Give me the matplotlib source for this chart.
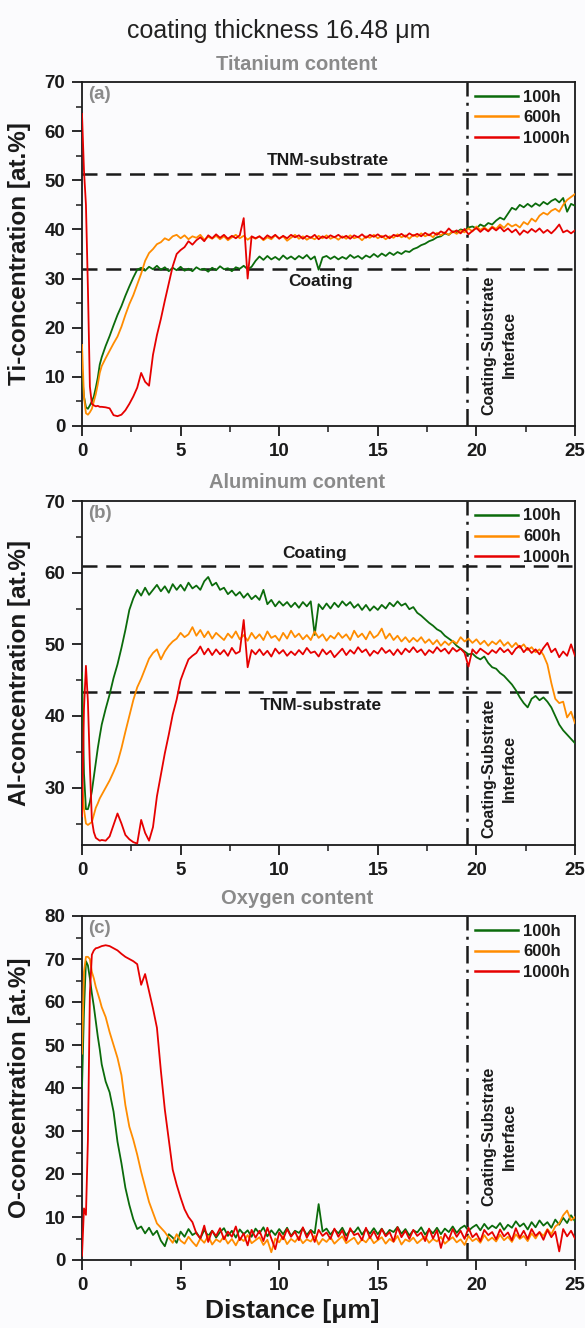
import numpy as np
import matplotlib
matplotlib.use("Agg")
import matplotlib.pyplot as plt
from matplotlib.ticker import MultipleLocator

plt.rcParams['font.family'] = ['Liberation Sans', 'DejaVu Sans']

# sample positions (µm)
distance = np.concatenate([np.round(np.arange(0.0, 0.95, 0.1), 1),
                           np.round(np.arange(1.0, 25.01, 0.2), 1)])

series_labels = ["100h", "600h", "1000h"]
series_colors = ["#0b6b0b", "#ff8c00", "#e60000"]

# ---------------- Titanium ----------------
ti_100h = [10.5, 6.0, 3.8, 3.5, 4.2, 5.0, 6.0, 7.8, 9.8, 12.5,
           14.0, 16.3, 18.3, 20.5, 22.6, 24.4, 26.5, 28.4, 30.2, 31.8,
           32.2, 31.6, 32.4, 31.9, 32.6, 31.8, 32.3, 31.5, 32.2, 31.7,
           32.4, 31.6, 32.0, 31.5, 32.3, 31.8, 32.0, 31.4, 32.2, 31.7,
           32.5, 31.9, 32.1, 31.5, 32.3, 32.0, 32.6, 31.9, 32.4, 33.6,
           34.5, 33.8, 34.6, 33.9, 34.4, 33.8, 34.7, 34.0, 34.5, 33.9,
           34.6, 34.1, 34.8, 33.9, 34.5, 31.8, 34.3, 34.6, 34.0, 34.5,
           33.9, 34.4, 34.0, 34.8, 34.2, 34.6, 34.0, 34.7, 34.3, 35.0,
           34.4, 35.1, 34.6, 35.3, 34.8, 35.4, 35.0, 35.6, 35.4, 36.0,
           36.3, 36.8, 37.1, 37.6, 37.9, 38.4, 38.6, 39.2, 38.9, 39.6,
           39.4, 40.0, 39.8, 40.4, 40.6, 40.2, 41.0, 40.6, 41.3, 41.0,
           41.8, 42.4, 42.0, 43.2, 44.4, 44.0, 45.0, 44.5, 45.2, 44.6,
           45.3, 44.8, 45.6, 45.1, 45.8, 46.2, 45.5, 46.4, 43.6, 45.2,
           44.8]
ti_600h = [16.5, 6.0, 2.6, 2.3, 2.8, 3.5, 5.0, 6.5, 8.5, 10.8,
           12.2, 13.8, 15.3, 16.8, 18.2, 20.2, 22.6, 24.8, 26.6, 28.8,
           31.0, 33.6, 35.2, 36.0, 37.0, 37.4, 38.2, 37.8, 38.6, 38.9,
           38.2, 38.8, 38.0, 38.6, 38.3, 38.9, 37.9, 38.5, 38.1, 38.7,
           38.0, 38.6, 37.8, 38.4, 38.9, 38.2, 38.7, 37.9, 38.5, 38.1,
           38.6, 37.8, 38.4, 38.0, 38.8, 38.2, 38.6, 37.7, 38.3, 38.9,
           38.1, 38.6, 37.9, 38.4, 38.0, 38.7, 38.2, 38.8, 38.1, 38.5,
           37.9, 38.6, 38.1, 38.8, 38.2, 38.5, 37.8, 38.6, 38.3, 38.9,
           38.2, 38.7, 38.0, 38.6, 38.3, 39.0, 38.4, 38.8, 38.1, 38.9,
           38.5, 39.2, 38.6, 39.0, 38.4, 39.3, 38.8, 39.4, 38.9, 39.6,
           39.1, 39.8, 39.4, 40.2, 39.6, 40.6, 39.9, 40.4, 39.8, 40.6,
           40.1, 41.0, 40.3, 41.2, 40.6, 41.0, 40.4, 41.5, 41.0, 42.2,
           41.6, 42.8, 43.4, 43.0, 43.8, 44.2, 43.6, 45.0, 46.0, 46.6,
           47.2]
ti_1000h = [63.5, 52.0, 45.0, 28.0, 8.0, 4.5, 4.2, 4.0, 4.1, 3.9,
            3.9, 3.8, 3.6, 2.2, 2.0, 2.3, 3.2, 4.5, 6.0, 7.8,
            10.8, 9.0, 8.2, 14.5, 18.5, 21.8, 25.5, 29.0, 32.5, 35.0,
            35.8, 36.4, 37.6, 36.9, 37.8, 38.4, 37.6, 38.8, 38.2, 39.0,
            38.3, 38.9, 38.1, 38.7, 38.2, 38.8, 42.3, 30.0, 38.6, 38.2,
            38.6, 38.0, 38.8, 38.3, 38.9, 38.1, 38.7, 38.2, 38.9, 38.4,
            38.8, 38.1, 38.7, 38.3, 38.9, 38.0, 38.6, 38.2, 38.8, 38.4,
            38.9, 38.3, 38.7, 38.1, 38.8, 38.4, 39.0, 38.3, 38.9, 38.5,
            39.0, 38.4, 38.8, 38.2, 38.9, 38.6, 39.1, 38.5, 39.2, 38.7,
            39.1, 38.6, 39.3, 38.8, 39.4, 38.9, 39.6, 39.2, 40.2, 39.4,
            39.8, 39.2, 40.1, 39.0, 39.7, 40.3, 39.5, 40.2, 39.6, 40.4,
            39.8, 40.5, 39.6, 40.2, 39.4, 40.0, 38.9, 39.8, 39.3, 40.1,
            39.5, 40.2, 39.3, 39.9, 39.2, 40.0, 41.0, 39.4, 39.8, 39.2,
            39.8]

# ---------------- Aluminum ----------------
al_100h = [46.0, 32.0, 27.0, 27.0, 28.0, 29.5, 31.5, 33.5, 35.5, 37.2,
           38.8, 41.0, 43.0, 45.3, 47.2, 49.5, 52.0, 54.8, 56.4, 57.6,
           56.8, 57.9, 56.9, 57.6, 58.3, 57.4, 58.1, 57.2, 58.4, 57.6,
           58.3, 57.5, 58.6, 57.8, 58.2, 57.6, 58.8, 59.4, 58.2, 58.6,
           57.6, 57.9, 57.0, 57.5, 56.8, 57.3, 56.5, 57.1, 56.3, 56.8,
           56.2, 57.6, 55.6, 56.2, 55.3, 56.0, 55.4, 55.9, 55.2, 55.8,
           55.1, 55.9, 55.3, 56.0, 51.3, 55.6, 54.9, 55.7, 55.0, 55.8,
           55.2, 56.0, 55.4, 55.9, 55.1, 55.6, 54.8, 55.5, 54.7, 55.3,
           54.8, 55.5, 55.0, 55.8, 55.3, 56.0, 55.4, 55.7, 54.9, 55.2,
           54.4, 54.0, 53.5, 53.0, 52.6, 52.1, 51.8, 51.2, 50.8, 50.4,
           49.8, 49.4, 49.0, 48.6, 48.7, 48.2, 47.9, 48.3, 47.4, 46.8,
           46.6, 46.0, 45.6, 45.0, 44.4, 43.6, 42.6, 41.8, 41.2, 42.4,
           42.8, 42.2, 42.6, 42.0, 41.2, 40.0, 38.8, 38.0, 37.4, 36.8,
           36.2]
al_600h = [31.0, 27.0, 25.0, 24.8, 25.0, 25.2, 26.2, 27.2, 27.8, 28.5,
           29.0, 30.0, 31.0, 32.2, 33.5, 35.5, 37.8, 40.0, 42.2, 44.0,
           45.2, 46.6, 48.0, 48.8, 49.3, 47.9, 49.0, 49.8, 50.4, 50.8,
           51.6, 51.0, 51.4, 52.4, 51.2, 52.0, 51.0, 51.8, 50.8, 51.6,
           51.1, 50.6, 51.5, 50.9, 51.8, 50.7, 51.3, 50.5, 51.6, 50.8,
           51.4, 50.6, 51.8, 50.9, 51.2, 50.5, 51.6, 50.8, 51.9, 51.0,
           51.5, 50.7, 51.3, 50.6, 51.8, 50.9, 51.4, 50.5, 51.2, 50.8,
           51.6, 50.9, 51.4, 50.6, 51.9, 51.0, 51.5, 50.7, 51.8, 50.9,
           51.3, 52.2, 50.8, 51.5, 50.6, 51.2, 50.4, 51.0, 50.3, 50.9,
           50.4, 51.0, 50.2, 50.7, 50.0, 50.6, 49.8, 50.4, 49.9, 50.5,
           50.1, 51.0, 50.4, 50.8, 50.2, 50.7, 50.0, 50.5, 49.8, 50.4,
           50.0, 50.6, 49.8, 50.3, 49.6, 50.2, 49.5, 50.0, 49.2, 49.6,
           48.9, 49.3, 48.5, 47.2, 44.6, 42.4, 41.8, 42.0, 39.8, 40.6,
           39.0]
al_1000h = [26.0, 41.0, 47.0, 42.0, 33.0, 25.5, 23.8, 23.0, 22.8, 22.6,
            22.7, 22.6, 23.2, 24.8, 26.4, 25.0, 23.4, 22.8, 22.4, 22.2,
            25.5, 23.7, 22.6, 24.5, 28.8, 31.8, 34.8, 37.4, 40.2, 42.3,
            45.0, 46.5, 47.9, 48.4, 48.8, 49.7, 48.6, 49.4, 48.5, 49.3,
            48.6, 49.2, 48.4, 49.5, 48.7, 49.0, 53.4, 46.8, 49.2, 48.6,
            49.3, 48.5, 49.1, 48.3, 49.4, 48.7, 49.2, 48.4, 49.0, 48.5,
            49.2, 48.6, 49.5, 48.8, 49.0, 48.3, 49.3, 48.6, 49.1, 48.2,
            48.8, 49.4, 48.5, 49.2, 48.7, 49.6, 48.9, 49.3, 48.4, 49.1,
            48.7, 49.5, 48.8, 49.2, 48.5, 49.3, 48.6, 49.4, 48.9, 49.6,
            48.9, 49.3, 48.5, 49.2, 48.8, 49.6, 49.0, 49.4, 48.7, 49.5,
            49.0, 49.4, 48.8, 46.9, 49.3, 48.7, 49.4, 49.0, 48.6, 49.2,
            48.8, 49.5, 48.9, 49.3, 48.6, 49.4, 49.8, 48.9, 49.5, 48.8,
            49.3, 48.6, 49.5, 50.2, 48.9, 49.4, 48.2, 49.0, 48.4, 50.0,
            48.4]

# ---------------- Oxygen ----------------
o_100h = [40.0, 58.0, 69.5, 68.5, 65.5, 62.0, 59.0, 55.5, 52.0, 49.0,
          45.5, 41.5, 39.0, 34.5, 27.5, 22.5, 16.8, 12.8, 9.5, 7.2,
          7.8, 6.2, 7.5, 5.8, 6.8, 4.5, 3.2, 6.0, 5.2, 4.0,
          6.6, 5.4, 7.2, 5.8, 6.4, 5.0, 7.0, 5.6, 6.8, 5.2,
          6.5, 7.4, 5.6, 6.8, 5.2, 7.1, 6.0, 6.9, 5.4, 7.3,
          6.2, 7.6, 5.5, 6.9, 5.8, 7.2, 6.0, 7.5, 5.6, 6.8,
          6.3, 7.4, 5.8, 7.0, 6.2, 13.0, 6.6, 7.3, 5.9, 7.1,
          6.2, 7.5, 5.7, 6.9, 6.4, 7.6, 5.9, 7.2, 6.1, 7.4,
          6.0, 7.3, 5.8, 7.0, 6.5, 7.7, 6.1, 7.2, 5.7, 6.9,
          6.4, 7.6, 5.9, 7.1, 6.2, 7.5, 6.0, 7.3, 6.5, 7.8,
          6.3, 7.4, 8.0, 6.8, 7.6, 8.2, 6.9, 8.4, 7.2, 8.0,
          7.4, 8.6, 7.0, 8.2, 7.5, 9.0, 7.8, 8.5, 7.1, 8.8,
          7.6, 9.2, 8.0, 8.8, 7.5, 9.4, 8.2, 9.8, 8.6, 10.4,
          9.0]
o_600h = [48.0, 67.0, 70.5, 70.5, 70.0, 67.0, 65.5, 63.5, 62.0, 60.5,
          58.8, 56.5, 53.0, 50.0, 47.0, 43.0, 36.0, 31.0, 28.0, 24.5,
          20.5, 17.0, 13.5, 11.0, 8.5, 7.5, 6.5, 5.2, 4.0, 6.0,
          4.5, 3.8, 5.4, 4.2, 3.2, 5.0, 4.0, 5.6, 3.6, 4.8,
          4.2, 5.5, 3.8, 4.9, 3.4, 5.2, 4.4, 5.8, 3.9, 4.6,
          5.3, 3.5, 4.7, 1.8, 5.0, 4.1, 5.6, 3.7, 4.9, 4.2,
          5.4, 3.9, 4.8, 4.3, 5.6, 3.6, 4.9, 4.2, 5.3, 3.8,
          4.7, 5.5, 3.9, 4.6, 5.2, 3.7, 4.8, 4.1, 5.4, 3.9,
          4.6, 5.3, 3.8, 4.9, 4.2, 5.6, 3.6, 4.8, 4.3, 5.2,
          3.9, 4.7, 5.5, 4.0, 4.9, 4.3, 5.4, 3.8, 4.6, 5.3,
          4.1, 4.8, 3.5, 5.6, 4.4, 5.0, 4.0, 5.8, 4.5, 5.2,
          4.3, 5.9, 4.6, 5.4, 4.2, 6.0, 4.9, 5.6, 4.4, 6.2,
          5.0, 6.5, 5.6, 7.2, 6.0, 7.8, 8.5, 10.4, 11.5, 9.2,
          10.0]
o_1000h = [1.0, 12.0, 10.5, 28.0, 62.0, 71.0, 72.0, 72.5, 72.6, 72.8,
           73.0, 73.2, 73.0, 72.5, 72.0, 71.2, 70.5, 70.0, 69.5, 68.8,
           64.0, 66.5, 62.5, 58.5, 54.0, 44.0, 35.0, 28.0, 21.0, 17.5,
           14.5, 11.8, 10.0, 8.8, 6.2, 5.0, 8.0, 4.2, 6.8, 5.6,
           7.4, 4.8, 6.6, 5.4, 7.8, 4.6, 6.2, 3.4, 7.0, 5.2,
           6.8, 4.4, 7.5, 5.0, 2.5, 6.4, 4.8, 7.2, 5.4, 6.6,
           4.6, 7.6, 5.2, 6.8, 4.2, 7.0, 5.6, 6.4, 4.9, 7.3,
           5.4, 6.9, 4.5, 7.4, 5.8, 6.2, 4.6, 7.5, 5.1, 6.7,
           4.8, 7.2, 5.5, 6.5, 4.3, 7.6, 5.3, 6.8, 4.9, 7.0,
           5.6, 6.4, 4.4, 7.3, 5.0, 6.9, 2.8, 6.1, 4.7, 7.2,
           5.4, 6.8, 4.9, 7.5, 5.3, 6.2, 4.4, 7.0, 5.8, 6.5,
           4.8, 7.1, 5.5, 6.4, 4.6, 7.4, 5.2, 6.8, 4.9, 7.2,
           5.6, 6.5, 4.7, 7.0, 5.3, 6.6, 2.0, 7.2, 5.5, 6.8,
           5.0]

interface_x = 19.5
panels = [
    dict(tag="(a)", title="Titanium content", ylabel="Ti-concentration [at.%]",
         data=[ti_100h, ti_600h, ti_1000h], ylim=(0, 70), yticks=[0, 10, 20, 30, 40, 50, 60, 70],
         refs=[(51.3, "TNM-substrate", 12.45, 52.4, "bottom"), (31.9, "Coating", 12.1, 30.9, "top")],
         iface_y=16.5),
    dict(tag="(b)", title="Aluminum content", ylabel="Al-concentration [at.%]",
         data=[al_100h, al_600h, al_1000h], ylim=(22, 70), yticks=[30, 40, 50, 60, 70],
         refs=[(60.9, "Coating", 11.8, 61.6, "bottom"), (43.3, "TNM-substrate", 12.1, 42.5, "top")],
         iface_y=32.7),
    dict(tag="(c)", title="Oxygen content", ylabel="O-concentration [at.%]",
         data=[o_100h, o_600h, o_1000h], ylim=(0, 80), yticks=[0, 10, 20, 30, 40, 50, 60, 70, 80],
         refs=[], iface_y=28.8),
]

W, H = 585, 1328
fig = plt.figure(figsize=(W / 100, H / 100), dpi=100)
bg = "#fbfbfd"
fig.patch.set_facecolor(bg)
ink = "#1a1a1a"

ax_left, ax_right = 82 / W, 575 / W
tops = [82, 501, 916]
bottoms = [426, 845, 1260]
title_y = [65, 483, 899]

fig.text(279 / W, 1 - 31 / H, "coating thickness 16.48 \u03bcm", ha="center", va="center",
         fontsize=18, color="#222222")

for i, p in enumerate(panels):
    ax = fig.add_axes([ax_left, 1 - bottoms[i] / H, ax_right - ax_left, (bottoms[i] - tops[i]) / H])
    ax.set_facecolor(bg)
    handles = []
    for vals, lab, col in zip(p["data"], series_labels, series_colors):
        ln, = ax.plot(distance, vals, color=col, lw=1.3, label=lab, zorder=3)
        handles.append(ln)
    for yv, txt, tx, ty, va in p["refs"]:
        ax.axhline(yv, color=ink, lw=1.8, ls=(0, (6, 3.5)), zorder=2)
        ax.text(tx, ty, txt, ha="center", va=va, fontsize=12.5, fontweight="bold", color=ink)
    ax.axvline(interface_x, color=ink, lw=1.8, ls=(0, (7, 2.5, 1.2, 2.5)), zorder=2)
    ax.text(21.15, p["iface_y"], "Coating-Substrate\nInterface", rotation=90, ha="center",
            va="center", fontsize=11.5, fontweight="bold", color=ink, linespacing=1.4,
            multialignment="center")
    ax.set_xlim(0, 25)
    ax.set_ylim(*p["ylim"])
    ax.set_xticks([0, 5, 10, 15, 20, 25])
    ax.set_yticks(p["yticks"])
    ax.xaxis.set_minor_locator(MultipleLocator(2.5))
    ax.yaxis.set_minor_locator(MultipleLocator(5))
    ax.tick_params(which="major", direction="out", length=7, width=1.3, labelsize=13.5, pad=5,
                   colors=ink)
    ax.tick_params(which="minor", direction="out", length=4, width=1.1, colors=ink)
    for lbl in ax.get_xticklabels() + ax.get_yticklabels():
        lbl.set_fontweight("bold")
    for s in ax.spines.values():
        s.set_linewidth(1.3)
        s.set_color(ink)
    ax.set_ylabel(p["ylabel"], fontsize=17.5, fontweight="bold", color=ink)
    ax.yaxis.set_label_coords(-0.104, 0.5)
    ax.text(0.012, 0.988, p["tag"], transform=ax.transAxes, ha="left", va="top",
            fontsize=13.5, fontweight="bold", color="#8a8a8a")
    fig.text(297 / W, 1 - title_y[i] / H, p["title"], ha="center", va="center",
             fontsize=14.5, fontweight="bold", color="#8a8a8a")
    leg = ax.legend(handles=handles, loc="upper right", bbox_to_anchor=(1.005, 1.0),
                    frameon=False, fontsize=12, handlelength=2.6, handletextpad=0.3,
                    labelspacing=0.35, borderaxespad=0.2, borderpad=0.25)
    for t in leg.get_texts():
        t.set_fontweight("bold")
        t.set_color(ink)
    for lh in leg.get_lines():
        lh.set_linewidth(1.8)
    if i == 2:
        ax.set_xlabel("Distance [\u03bcm]", fontsize=19, fontweight="bold", color=ink)
        ax.xaxis.set_label_coords(0.426, -0.113)

fig.savefig("out.png", dpi=100, facecolor=bg)
